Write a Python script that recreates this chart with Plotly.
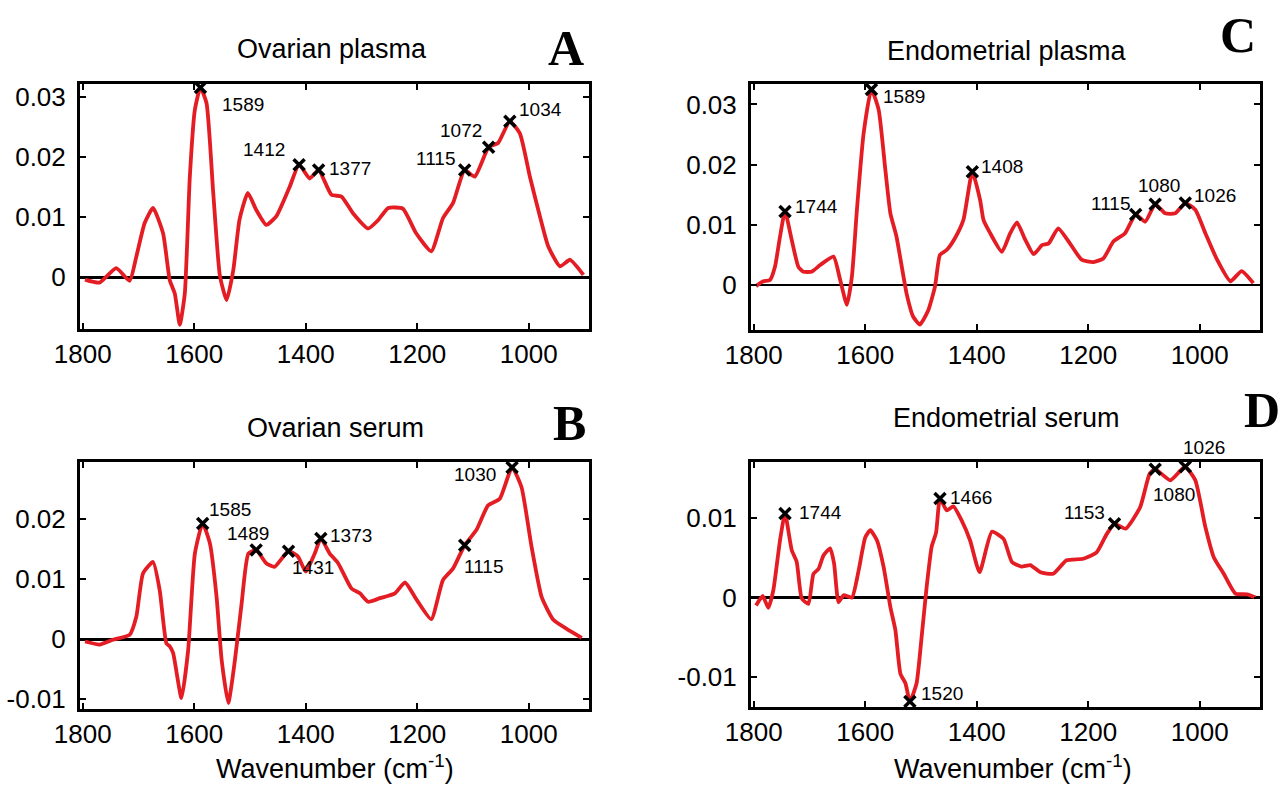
import numpy as np
import plotly.graph_objects as go

# ---------------- data ----------------
panel_titles = ["Ovarian plasma", "Ovarian serum", "Endometrial plasma", "Endometrial serum"]
panel_letters = ["A", "B", "C", "D"]
x_title = "Wavenumber (cm<sup>-1</sup>)"
x_ticks = [1800, 1600, 1400, 1200, 1000]

# A: Ovarian plasma
wn_a = [1796, 1770, 1740, 1716, 1704, 1689, 1674, 1656, 1644, 1635, 1626, 1617, 1608, 1599,
        1589, 1578, 1566, 1554, 1542, 1530, 1519, 1504, 1489, 1471, 1453, 1429, 1412, 1393,
        1377, 1354, 1336, 1315, 1288, 1270, 1252, 1226, 1202, 1175, 1154, 1136, 1115, 1097,
        1072, 1055, 1034, 1016, 998, 980, 965, 944, 926, 902]
val_a = [-0.0004, -0.0009, 0.0015, -0.0006, 0.0034, 0.0090, 0.0115, 0.0073, -0.0005, -0.0027,
         -0.0079, -0.0027, 0.0167, 0.0278, 0.0315, 0.0289, 0.0140, 0.0002, -0.0038, 0.0012,
         0.0095, 0.0140, 0.0112, 0.0087, 0.0101, 0.0150, 0.0187, 0.0164, 0.0178, 0.0137,
         0.0134, 0.0106, 0.0081, 0.0095, 0.0115, 0.0114, 0.0073, 0.0043, 0.0098, 0.0123,
         0.0178, 0.0167, 0.0216, 0.0223, 0.0259, 0.0239, 0.0167, 0.0101, 0.0051, 0.0018,
         0.0029, 0.0004]
peaks_a = [1589, 1412, 1377, 1115, 1072, 1034]

# B: Ovarian serum
wn_b = [1796, 1770, 1746, 1716, 1704, 1692, 1674, 1662, 1650, 1644, 1638, 1623, 1611, 1599,
        1585, 1572, 1560, 1551, 1539, 1527, 1515, 1503, 1489, 1471, 1456, 1431, 1414, 1400,
        1384, 1373, 1357, 1342, 1318, 1303, 1288, 1267, 1240, 1222, 1201, 1175, 1154, 1136,
        1115, 1094, 1073, 1052, 1030, 1013, 995, 977, 956, 932, 905]
val_b = [-0.0004, -0.0009, -0.0001, 0.0007, 0.0037, 0.0109, 0.0128, 0.0081, -0.0007, -0.0012,
         -0.0023, -0.0098, -0.0018, 0.0142, 0.0192, 0.0159, 0.0070, -0.0034, -0.0106, -0.0034,
         0.0060, 0.0142, 0.0148, 0.0126, 0.0120, 0.0146, 0.0137, 0.0112, 0.0142, 0.0167,
         0.0142, 0.0126, 0.0084, 0.0076, 0.0062, 0.0068, 0.0076, 0.0094, 0.0065, 0.0033,
         0.0098, 0.0117, 0.0156, 0.0181, 0.0222, 0.0233, 0.0285, 0.0252, 0.0153, 0.0070,
         0.0032, 0.0017, 0.0002]
peaks_b = [1585, 1489, 1431, 1373, 1115, 1030]

# C: Endometrial plasma
wn_c = [1796, 1783, 1771, 1762, 1753, 1744, 1732, 1720, 1711, 1696, 1681, 1657, 1645, 1633,
        1624, 1615, 1603, 1589, 1576, 1564, 1555, 1544, 1526, 1514, 1502, 1487, 1475, 1466,
        1454, 1439, 1424, 1408, 1394, 1388, 1376, 1355, 1340, 1328, 1313, 1298, 1283, 1271,
        1254, 1233, 1212, 1191, 1173, 1155, 1134, 1115, 1098, 1080, 1062, 1044, 1026, 1008,
        990, 969, 945, 925, 904]
val_c = [-0.0002, 0.0006, 0.0008, 0.0030, 0.0080, 0.0122, 0.0075, 0.0030, 0.0022, 0.0022,
         0.0033, 0.0047, 0.0008, -0.0033, 0.0014, 0.0125, 0.0252, 0.0325, 0.0291, 0.0191,
         0.0119, 0.0080, -0.0014, -0.0053, -0.0066, -0.0042, -0.0003, 0.0050, 0.0058, 0.0078,
         0.0108, 0.0188, 0.0141, 0.0108, 0.0086, 0.0055, 0.0086, 0.0104, 0.0075, 0.0051,
         0.0066, 0.0069, 0.0094, 0.0069, 0.0042, 0.0038, 0.0044, 0.0072, 0.0086, 0.0117,
         0.0105, 0.0134, 0.0119, 0.0119, 0.0136, 0.0125, 0.0086, 0.0042, 0.0006, 0.0023,
         0.0003]
peaks_c = [1744, 1589, 1408, 1115, 1080, 1026]

# D: Endometrial serum
wn_d = [1796, 1784, 1774, 1765, 1753, 1744, 1732, 1723, 1714, 1702, 1693, 1684, 1675, 1663,
        1656, 1648, 1639, 1624, 1612, 1600, 1591, 1579, 1567, 1555, 1546, 1537, 1528, 1520,
        1508, 1499, 1490, 1481, 1473, 1466, 1454, 1442, 1427, 1412, 1395, 1373, 1352, 1337,
        1320, 1304, 1286, 1263, 1239, 1209, 1185, 1167, 1153, 1133, 1107, 1090, 1080, 1053,
        1035, 1026, 1008, 990, 975, 957, 936, 915, 900]
val_d = [-0.0010, 0.0002, -0.0013, 0.0009, 0.0072, 0.0106, 0.0060, 0.0045, -0.0001, -0.0008,
         0.0030, 0.0036, 0.0053, 0.0062, 0.0043, -0.0006, 0.0003, 0.0000, 0.0034, 0.0076,
         0.0085, 0.0072, 0.0038, -0.0012, -0.0041, -0.0096, -0.0108, -0.0131, -0.0108, -0.0050,
         0.0013, 0.0064, 0.0082, 0.0125, 0.0110, 0.0115, 0.0097, 0.0072, 0.0032, 0.0083,
         0.0074, 0.0045, 0.0039, 0.0041, 0.0032, 0.0030, 0.0047, 0.0049, 0.0057, 0.0080,
         0.0093, 0.0087, 0.0114, 0.0156, 0.0162, 0.0148, 0.0160, 0.0165, 0.0148, 0.0089,
         0.0051, 0.0030, 0.0005, 0.0004, 0.0000]
peaks_d = [1744, 1520, 1466, 1153, 1080, 1026]

yticks_a = [0, 0.01, 0.02, 0.03]
yticks_b = [-0.01, 0, 0.01, 0.02]
yticks_c = [0, 0.01, 0.02, 0.03]
yticks_d = [-0.01, 0, 0.01]
ytext_a = ["0", "0.01", "0.02", "0.03"]
ytext_b = ["-0.01", "0", "0.01", "0.02"]
ytext_c = ["0", "0.01", "0.02", "0.03"]
ytext_d = ["-0.01", "0", "0.01"]

# ---------------- layout / style ----------------
W, H = 1284, 785
FONT = "Liberation Sans, Arial, sans-serif"
RED = "#e41d24"

def px_x(p):
    return p / W

def px_y(p):
    return 1 - p / H

panels = [
    dict(wn=wn_a, val=val_a, peaks=peaks_a, yt=yticks_a, ytt=ytext_a,
         xdom=(80, 589), ydom=(84, 329), yr=(-0.0086, 0.0321), zw=3,
         labels=[("left", 20, 17), ("right", -12, -15), ("left", 8, -2),
                 ("right", -8, -12), ("right", -5, -17), ("left", 7, -12)]),
    dict(wn=wn_b, val=val_b, peaks=peaks_b, yt=yticks_b, ytt=ytext_b,
         xdom=(80, 589), ydom=(462, 709), yr=(-0.0116, 0.0294), zw=2.5,
         labels=[("left", 4, -14), ("center", -8, -16), ("left", 1, 16),
                 ("left", 7, -3), ("left", -3, 21), ("right", -14, 7)]),
    dict(wn=wn_c, val=val_c, peaks=peaks_c, yt=yticks_c, ytt=ytext_c,
         xdom=(751, 1260), ydom=(84, 330), yr=(-0.0075, 0.0334), zw=2,
         labels=[("left", 8, -5), ("left", 10, 7), ("left", 7, -5),
                 ("right", -4, -11), ("center", 4, -19), ("left", 7, -8)]),
    dict(wn=wn_d, val=val_d, peaks=peaks_d, yt=yticks_d, ytt=ytext_d,
         xdom=(751, 1260), ydom=(462, 707), yr=(-0.0138, 0.0171), zw=3,
         labels=[("left", 12, -1), ("left", 9, -8), ("left", 8, -1),
                 ("right", -7, -11), ("center", 19, 25), ("center", 19, -19)]),
]

title_pos = [(332, 49), (335, 428), (1007, 51), (1006, 418)]
letter_pos = [(566, 48), (569, 423), (1238, 35), (1262, 410)]
xtitle_pos = [None, (335, 767), None, (1013, 767)]

fig = go.Figure()
annotations = []

for i, p in enumerate(panels):
    k = "" if i == 0 else str(i + 1)
    xa, ya = "x" + k, "y" + k
    wn = np.array(p["wn"], dtype=float)
    val = np.array(p["val"], dtype=float)
    fig.add_trace(go.Scatter(x=wn, y=val, mode="lines", xaxis=xa, yaxis=ya,
                             line=dict(color=RED, width=3.8, shape="spline", smoothing=0.5),
                             showlegend=False, hoverinfo="skip"))
    pk = np.array(p["peaks"], dtype=float)
    pv = np.interp(pk, wn[::-1], val[::-1])
    fig.add_trace(go.Scatter(x=pk, y=pv, mode="markers", xaxis=xa, yaxis=ya,
                             marker=dict(symbol="x-thin", size=11, color="black",
                                         line=dict(color="black", width=3.5)),
                             showlegend=False, hoverinfo="skip"))
    for (anc, dx, dy), w0, v0 in zip(p["labels"], pk, pv):
        annotations.append(dict(x=w0, y=v0, xref=xa, yref=ya, text=str(int(w0)),
                                showarrow=False, xanchor=anc, yanchor="middle",
                                xshift=dx, yshift=-dy,
                                font=dict(family=FONT, size=19, color="black")))
    axis_common = dict(showline=True, linecolor="black", linewidth=3, mirror="ticks",
                       ticks="inside", ticklen=6, tickwidth=2, tickcolor="black",
                       showgrid=False, automargin=False,
                       tickfont=dict(family=FONT, size=26, color="black"))
    fig.layout["xaxis" + k] = dict(
        domain=[px_x(p["xdom"][0]), px_x(p["xdom"][1])],
        range=[1805, 892], anchor=ya, tickvals=x_ticks,
        ticktext=[str(t) for t in x_ticks], zeroline=False, ticklabelstandoff=0,
        **axis_common)
    fig.layout["yaxis" + k] = dict(
        domain=[px_y(p["ydom"][1]), px_y(p["ydom"][0])],
        range=list(p["yr"]), anchor=xa, tickvals=p["yt"], ticktext=p["ytt"],
        zeroline=True, zerolinecolor="black", zerolinewidth=p["zw"],
        ticklabelstandoff=6, **axis_common)

    tx, ty = title_pos[i]
    annotations.append(dict(x=px_x(tx), y=px_y(ty), xref="paper", yref="paper",
                            text=panel_titles[i], showarrow=False, xanchor="center",
                            yanchor="middle", font=dict(family=FONT, size=27, color="black")))
    lx, ly = letter_pos[i]
    annotations.append(dict(x=px_x(lx), y=px_y(ly), xref="paper", yref="paper",
                            text="<b>" + panel_letters[i] + "</b>", showarrow=False,
                            xanchor="center", yanchor="middle",
                            font=dict(family="Liberation Serif, Times New Roman, serif",
                                      size=50, color="black")))
    if xtitle_pos[i] is not None:
        qx, qy = xtitle_pos[i]
        annotations.append(dict(x=px_x(qx), y=px_y(qy), xref="paper", yref="paper",
                                text=x_title, showarrow=False, xanchor="center",
                                yanchor="middle",
                                font=dict(family=FONT, size=27, color="black")))

fig.update_layout(width=W, height=H, margin=dict(l=0, r=0, t=0, b=0, autoexpand=False),
                  paper_bgcolor="white", plot_bgcolor="white",
                  annotations=annotations, showlegend=False)

fig.write_html("out.html", config={"displayModeBar": False},
               post_script="document.body.style.margin='0px';"
                           "document.body.style.overflow='hidden';")
